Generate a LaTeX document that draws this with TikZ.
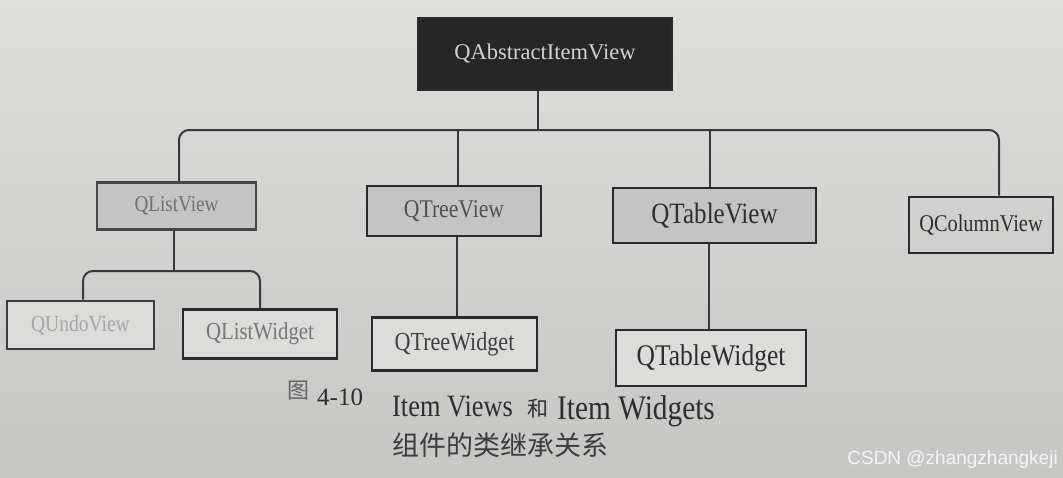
\documentclass[tikz,border=0pt]{standalone}
\usepackage{fontspec}
\setmainfont{Liberation Serif}
\newfontfamily\cond[FakeStretch=0.85]{Liberation Serif}
\newfontfamily\cjk{Noto Sans CJK SC}
\newfontfamily\wmfont{Liberation Sans}
\definecolor{papertop}{HTML}{DEDEDC}
\definecolor{paperbot}{HTML}{C6C6C4}
\definecolor{boxgrey}{HTML}{C4C4C4}
\definecolor{boxpale}{HTML}{DCDCDA}
\definecolor{colgrey}{HTML}{D0D0CF}
\definecolor{boxline}{HTML}{2A2A2A}
\definecolor{connline}{HTML}{383838}
\definecolor{darkfill}{HTML}{262626}
\definecolor{inkdark}{HTML}{2E2E2E}
\begin{document}
\begin{tikzpicture}[x=1pt,y=-1pt,
  box/.style={draw=boxline, line width=2.6pt, inner sep=0pt},
  greybox/.style={box, fill=boxgrey},
  palebox/.style={box, fill=boxpale},
  sz/.style={font=\cond\fontsize{#1}{#1}\selectfont},
  conn/.style={draw=connline, line width=2pt, rounded corners=10pt}
]
\shade[top color=papertop, bottom color=paperbot] (0,0) rectangle (1063,477);
\useasboundingbox (0,0) rectangle (1063,477);

% nodes
\node[box, fill=darkfill, minimum width=254, minimum height=72,
      font=\fontsize{22.5}{22.5}\selectfont, text={rgb,255:red,210;green,210;blue,210}]
      (top) at (545,54) {QAbstractItemView};

\node[greybox, draw={rgb,255:red,70;green,70;blue,70}, minimum width=159, minimum height=47, sz=22.5,
      text={rgb,255:red,112;green,112;blue,112}] (lv) at (176.5,206) {QListView};
\node[greybox, minimum width=174, minimum height=50, sz=25.5,
      text={rgb,255:red,80;green,80;blue,80}] (tv) at (454,211) {QTreeView};
\node[greybox, minimum width=203, minimum height=55, sz=29.5,
      text=inkdark] (tbv) at (714.5,215.5) {QTableView};
\node[box, fill=colgrey, minimum width=144, minimum height=56, sz=24,
      text=inkdark] (cv) at (981,225) {QColumnView};

\node[palebox, draw={rgb,255:red,60;green,60;blue,60}, minimum width=147, minimum height=48, sz=23,
      text={rgb,255:red,165;green,165;blue,165}] (uv) at (80.5,325) {QUndoView};
\node[palebox, minimum width=154, minimum height=49, sz=24.5,
      text={rgb,255:red,120;green,120;blue,120}] (lw) at (260,334) {QListWidget};
\node[palebox, minimum width=165, minimum height=53, sz=26,
      text={rgb,255:red,64;green,64;blue,64}] (tw) at (454.5,344) {QTreeWidget};
\node[palebox, minimum width=190, minimum height=56, sz=30,
      text=inkdark] (tbw) at (711,358) {QTableWidget};

% connectors
\coordinate (bus) at (0,130);
\coordinate (sub) at (0,271);
\draw[conn] ([xshift=2.5pt]lv.north) -- ([xshift=2.5pt]lv.north |- bus)
            -- ([xshift=18pt]cv.north |- bus) -- ([xshift=18pt]cv.north);
\draw[conn] ([xshift=-7pt]top.south) -- ([xshift=-7pt]top.south |- bus);
\draw[conn] ([xshift=4pt]tv.north) -- ([xshift=4pt]tv.north |- bus);
\draw[conn] ([xshift=-4.5pt]tbv.north) -- ([xshift=-4.5pt]tbv.north |- bus);

\draw[conn] ([xshift=2.5pt]uv.north) -- ([xshift=2.5pt]uv.north |- sub)
            -- (lw.north |- sub) -- (lw.north);
\draw[conn] ([xshift=-2.5pt]lv.south) -- ([xshift=-2.5pt]lv.south |- sub);
\draw[conn] ([xshift=3pt]tv.south) -- ([xshift=3pt]tv.south |- tw.north);
\draw[conn] ([xshift=-6pt]tbv.south) -- ([xshift=-6pt]tbv.south |- tbw.north);

% caption
\node[font=\cjk\fontsize{22}{22}\selectfont, text={rgb,255:red,100;green,100;blue,100}, inner sep=0pt]
      (fig) at (298,391) {图};
\node[anchor=base west, inner sep=0pt, font=\fontsize{25}{25}\selectfont, text=inkdark]
      (num) at (317,405) {4-10};
\node[anchor=base west, inner sep=0pt, sz=31, text=inkdark] (c1) at (392,416) {Item Views};
\node[anchor=base west, inner sep=0pt, font=\cjk\fontsize{21}{21}\selectfont, text=inkdark]
      (he) at (527,416) {和};
\node[anchor=base west, inner sep=0pt, sz=34.5, text=inkdark] (c2) at (557,419) {Item Widgets};
\node[inner sep=0pt, font=\cjk\fontsize{27}{27}\selectfont, text={rgb,255:red,60;green,60;blue,60}]
      (c3) at (500,445) {组件的类继承关系};

% watermark
\node[anchor=east, inner sep=0pt, font=\wmfont\fontsize{19}{19}\selectfont, text={rgb,255:red,245;green,245;blue,245}]
      (wm) at (1058,460) {CSDN @zhangzhangkeji};
\end{tikzpicture}
\end{document}
